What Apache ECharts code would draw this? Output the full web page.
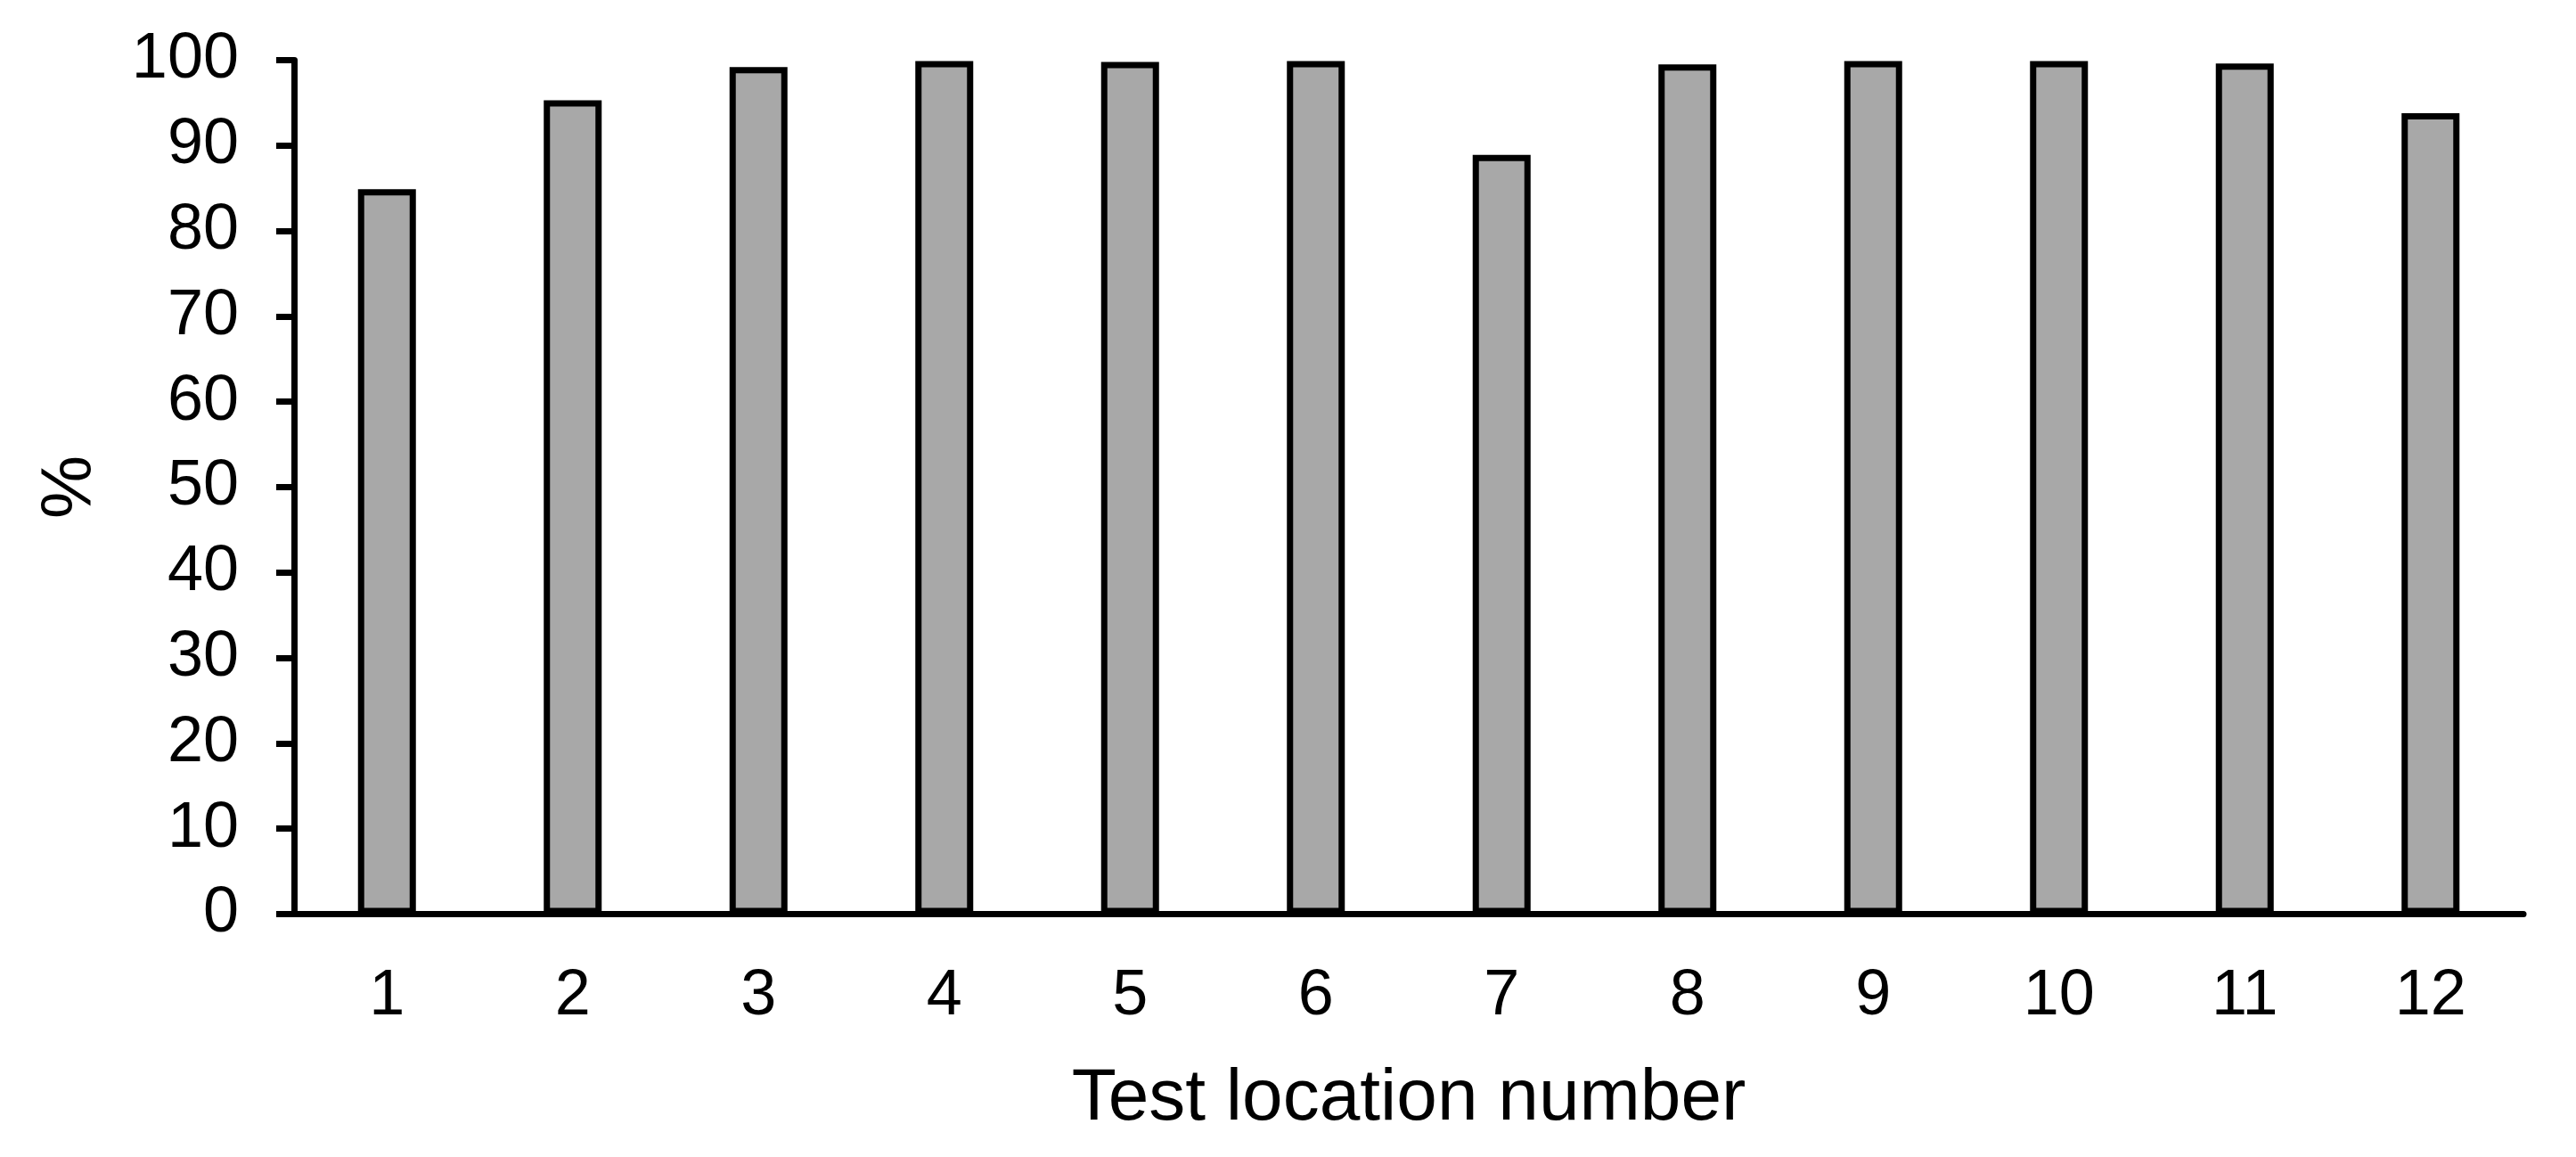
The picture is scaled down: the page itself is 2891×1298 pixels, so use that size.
<!DOCTYPE html>
<html>
<head>
<meta charset="utf-8">
<script src="https://cdn.jsdelivr.net/npm/echarts@6/dist/echarts.min.js"></script>
<style>
html,body{margin:0;padding:0;background:#fff;}
#chart{width:2891px;height:1298px;}
</style>
</head>
<body>
<div id="chart"></div>
<script>
const categories = ['1','2','3','4','5','6','7','8','9','10','11','12'];
const values = [84.9, 95.3, 99.2, 99.9, 99.8, 99.9, 88.9, 99.5, 99.9, 99.9, 99.6, 93.8];
const yTicks = {min: 0, max: 100, interval: 10};
const xTitle = 'Test location number';
const yTitle = '%';

const FONT = '"Liberation Sans", Arial, sans-serif';
const chart = echarts.init(document.getElementById('chart'), null, {renderer: 'canvas'});
chart.setOption({
  backgroundColor: '#ffffff',
  animation: false,
  grid: {left: 330, right: 59, top: 67.5, bottom: 272.5, containLabel: false},
  xAxis: {
    type: 'category',
    data: categories,
    name: xTitle,
    nameLocation: 'middle',
    nameGap: 167,
    nameTextStyle: {fontFamily: FONT, fontSize: 82, color: '#000'},
    axisLine: {show: true, lineStyle: {color: '#000', width: 7}},
    axisTick: {show: false},
    axisLabel: {fontFamily: FONT, fontSize: 72, color: '#000', margin: 57},
    splitLine: {show: false}
  },
  yAxis: {
    type: 'value',
    min: yTicks.min, max: yTicks.max, interval: yTicks.interval,
    name: yTitle,
    nameLocation: 'middle',
    nameGap: 210,
    nameRotate: 90,
    nameTextStyle: {fontFamily: FONT, fontSize: 80, color: '#000'},
    axisLine: {show: true, lineStyle: {color: '#000', width: 7}},
    axisTick: {show: true, inside: false, length: 20, lineStyle: {color: '#000', width: 7}},
    axisLabel: {fontFamily: FONT, fontSize: 72, color: '#000', margin: 62},
    splitLine: {show: false}
  },
  series: [{
    type: 'bar',
    data: values,
    barWidth: 65,
    itemStyle: {color: '#a8a8a8', borderColor: '#000', borderWidth: 7}
  }]
});
</script>
</body>
</html>
